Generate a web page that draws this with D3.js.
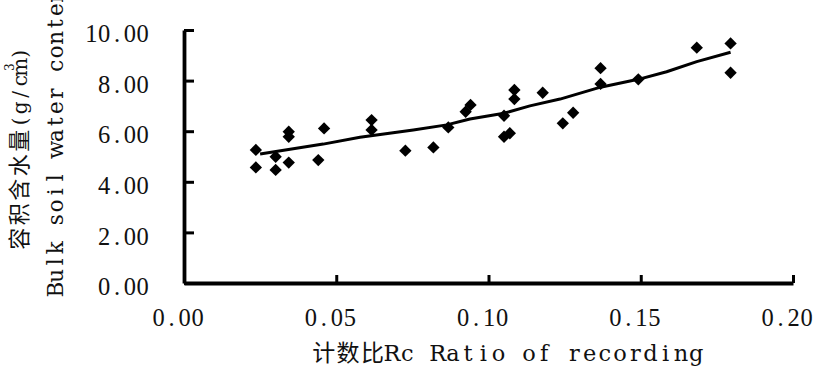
<!DOCTYPE html>
<html>
<head>
<meta charset="utf-8">
<script src="https://cdn.jsdelivr.net/npm/d3@7"></script>
<style>
  body { margin: 0; background: #fff; }
  svg { display: block; }
  .serif { font-family: "Liberation Serif", "DejaVu Serif", serif; fill: #111; }
  .wide { font-family: "DejaVu Serif", "Liberation Serif", serif; fill: #111; }
  .cjk { font-family: "Noto Sans CJK SC", sans-serif; fill: #111; }
</style>
</head>
<body>
<svg id="chart" width="813" height="366"></svg>
<script>
const width = 813;
const height = 366;

// measured samples (ratio of recording vs bulk soil water content)
const ratio = [0.0236, 0.0236, 0.0301, 0.0301, 0.0344, 0.0344, 0.0344, 0.0441, 0.046, 0.0616,
  0.0616, 0.0727, 0.0819, 0.0868, 0.0925, 0.0941, 0.1051, 0.1051, 0.107, 0.1085,
  0.1085, 0.1178, 0.1244, 0.1278, 0.1368, 0.1368, 0.1492, 0.1684, 0.1795, 0.1795];
const water = [5.26, 4.57, 4.99, 4.47, 5.98, 5.78, 4.76, 4.86, 6.11, 6.44,
  6.05, 5.23, 5.36, 6.15, 6.77, 7.04, 6.61, 5.78, 5.92, 7.63,
  7.27, 7.52, 6.31, 6.73, 8.49, 7.87, 8.05, 9.30, 9.47, 8.31];

// trend line
const trendRatio = [0.025, 0.0457, 0.0578, 0.0753, 0.0863, 0.0939, 0.1051, 0.1136, 0.1235, 0.1368, 0.1492, 0.1585, 0.1684, 0.1795];
const trendWater = [5.10, 5.49, 5.76, 6.05, 6.25, 6.48, 6.71, 7.00, 7.27, 7.74, 8.05, 8.35, 8.75, 9.12];

const xTicks = [0, 0.05, 0.1, 0.15, 0.2];
const yTicks = [0, 2, 4, 6, 8, 10];

const fmt = d3.format(".2f");

// place every char on a fixed grid (mimics the SimSun half-width look)
function gridX(str, start, adv) {
  return Array.from(str).map((c, i) => start + (i + 0.5) * adv).join(" ");
}

const svg = d3.select("#chart");
svg.append("rect").attr("width", width).attr("height", height).attr("fill", "#fff");

const x = d3.scaleLinear().domain([0, 0.2]).range([184, 793]);
const y = d3.scaleLinear().domain([0, 10]).range([283, 30]);

// axes
const xAxis = d3.axisBottom(x).tickValues(xTicks).tickSizeInner(-8).tickSizeOuter(0).tickFormat(fmt);
const yAxis = d3.axisLeft(y).tickValues(yTicks).tickSizeInner(-10).tickSizeOuter(0).tickFormat(fmt);

const gx = svg.append("g").attr("transform", `translate(0,${y(0)})`).call(xAxis);
const gy = svg.append("g").attr("transform", `translate(${x(0)},0)`).call(yAxis);

[gx, gy].forEach((g) => {
  g.attr("font-family", null).attr("font-size", null);
  g.select(".domain").attr("stroke", "#000").attr("stroke-width", 3.8);
  g.selectAll(".tick line").attr("stroke", "#000").attr("stroke-width", 3);
  g.selectAll(".tick text")
    .attr("class", "serif")
    .style("font-size", "24.5px")
    .attr("text-anchor", "middle");
});

const xAdv = 13;
gx.selectAll(".tick text")
  .attr("y", 43).attr("dy", 0)
  .attr("x", (d) => gridX(fmt(d), -6.5 - (fmt(d).length * xAdv) / 2, xAdv));

const yAdv = 12.8;
gy.selectAll(".tick text")
  .attr("dy", 11.7)
  .attr("x", (d) => gridX(fmt(d), -35 - fmt(d).length * yAdv, yAdv));

// trend line
const line = d3.line().x((d, i) => x(trendRatio[i])).y((d) => y(d));
svg.append("path")
  .datum(trendWater)
  .attr("d", line)
  .attr("fill", "none")
  .attr("stroke", "#000")
  .attr("stroke-width", 3)
  .attr("stroke-linejoin", "round");

// diamond markers
const diamond = d3.symbol().type(d3.symbolSquare).size(76);
svg.append("g")
  .selectAll("path")
  .data(water)
  .join("path")
  .attr("d", diamond)
  .attr("transform", (d, i) => `translate(${x(ratio[i])},${y(d)}) rotate(45)`)
  .attr("fill", "#000");

// x title
svg.append("text").attr("class", "cjk")
  .attr("y", 361).attr("text-anchor", "middle")
  .style("font-size", "23px")
  .attr("x", gridX("计数比", 311.5, 24.4))
  .text("计数比");
svg.append("text").attr("class", "wide")
  .attr("y", 361).attr("text-anchor", "middle")
  .style("font-size", "22.5px")
  .attr("x", gridX("Rc Ratio of recording", 384.5, 15.2))
  .text("Rc Ratio of recording");

// y title, two rotated lines
const yt1 = svg.append("g").attr("transform", "translate(27,251) rotate(-90)");
yt1.append("text").attr("class", "cjk")
  .attr("text-anchor", "middle")
  .style("font-size", "22px")
  .attr("x", gridX("容积含水量", 0, 24.5))
  .text("容积含水量");
yt1.append("text").attr("class", "wide")
  .attr("text-anchor", "middle")
  .style("font-size", "20px")
  .attr("x", gridX("(g/cm)", 123, 13.5))
  .text("(g/cm)");
yt1.append("text").attr("class", "wide")
  .attr("text-anchor", "middle")
  .style("font-size", "12px")
  .attr("x", 123 + 4.5 * 13.5).attr("y", -13)
  .text("3");

svg.append("text").attr("class", "wide")
  .attr("transform", "translate(63,296.7) rotate(-90)")
  .attr("text-anchor", "middle")
  .style("font-size", "21.5px")
  .attr("x", gridX("Bulk soil water content", 0, 14))
  .text("Bulk soil water content");
</script>
</body>
</html>
